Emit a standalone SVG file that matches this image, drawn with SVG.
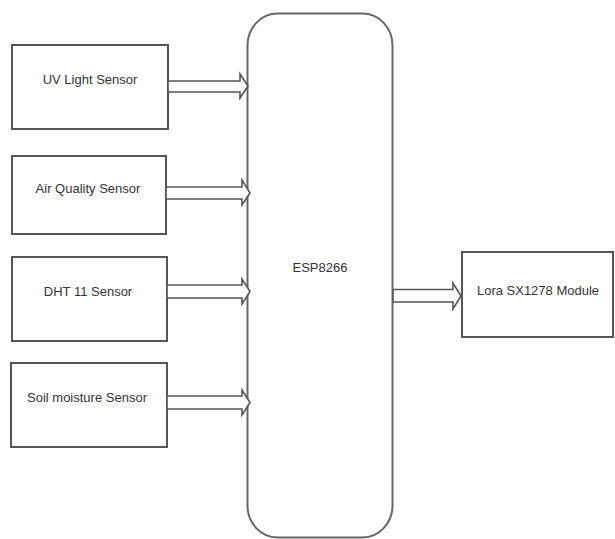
<svg xmlns="http://www.w3.org/2000/svg" width="615" height="539" viewBox="0 0 615 539">
<style>
.box{fill:#fff;stroke:#555;stroke-width:2}
.esp{fill:#fff;stroke:#666;stroke-width:2}
.lbl{font-family:"Liberation Sans",Arial,sans-serif;font-size:13px;fill:#333;text-anchor:middle}
.arr{fill:#fff;stroke:#555;stroke-width:1.6;stroke-linejoin:miter}
</style>
<rect width="615" height="539" fill="#fff"/>
<g id="esp8266">
<rect class="esp" x="247.5" y="13.5" width="145" height="524" rx="30" ry="32"/>
<text class="lbl" x="320" y="272">ESP8266</text>
</g>
<g id="uv">
<rect class="box" x="12" y="45" width="156" height="84"/>
<text class="lbl" x="90" y="84">UV Light Sensor</text>
</g>
<g id="air">
<rect class="box" x="12" y="156" width="154" height="78"/>
<text class="lbl" x="88" y="193">Air Quality Sensor</text>
</g>
<g id="dht">
<rect class="box" x="12" y="257" width="155" height="84"/>
<text class="lbl" x="88" y="296">DHT 11 Sensor</text>
</g>
<g id="soil">
<rect class="box" x="11" y="363" width="156" height="84"/>
<text class="lbl" x="87" y="402">Soil moisture Sensor</text>
</g>
<g id="lora">
<rect class="box" x="462" y="252" width="151" height="85"/>
<text class="lbl" x="538" y="295">Lora SX1278 Module</text>
</g>
<g id="connectors">
<path class="arr" d="M168,81 H240 V74 L248,86 L240,98 V92 H168 Z"/>
<path class="arr" d="M166,187 H242 V180 L250,193 L242,205 V199 H166 Z"/>
<path class="arr" d="M167,285 H242 V279 L250,291.5 L242,304 V298 H167 Z"/>
<path class="arr" d="M167,396 H242 V390 L250,402.5 L242,415 V409 H167 Z"/>
<path class="arr" d="M393,289.5 H453 V283 L461,296 L453,309 V302 H393 Z"/>
</g>
</svg>
